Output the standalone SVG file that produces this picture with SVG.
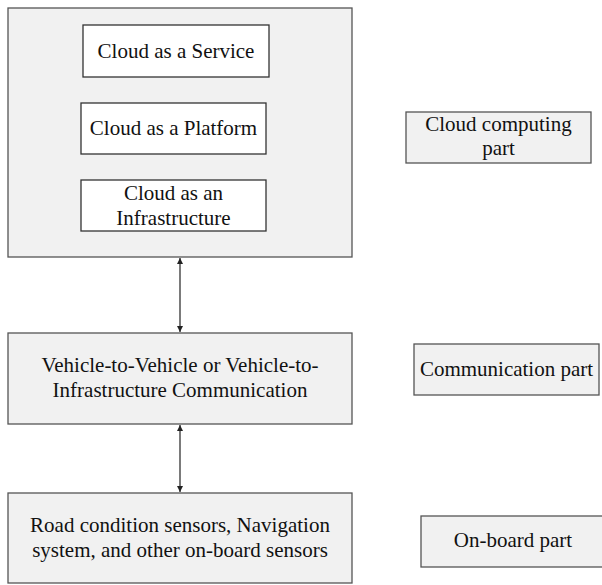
<svg xmlns="http://www.w3.org/2000/svg" width="602" height="585" viewBox="0 0 602 585">
<style>
.box{fill:#f1f1f1;stroke:#555;stroke-width:1.3}
.inner{fill:#fff;stroke:#333;stroke-width:1.3}
.t{font-family:'Liberation Serif','Times New Roman','DejaVu Serif',serif;font-size:21px;fill:#111;text-anchor:middle}
.conn{stroke:#222;stroke-width:1.2;fill:none;marker-start:url(#ah);marker-end:url(#ah)}
</style>
<defs>
<marker id="ah" viewBox="0 0 10 10" refX="10" refY="5" markerWidth="6" markerHeight="6" markerUnits="userSpaceOnUse" orient="auto-start-reverse">
<path d="M0,0 L10,5 L0,10 z" fill="#222"/>
</marker>
</defs>
<g id="cloud">
<rect class="box" x="8" y="8" width="344" height="249"/>
</g>
<g id="service">
<rect class="inner" x="83" y="25" width="186" height="52"/>
<text class="t" font-family="Liberation Serif, serif" x="176" y="58">Cloud as a Service</text>
</g>
<g id="platform">
<rect class="inner" x="81" y="103" width="185" height="51"/>
<text class="t" font-family="Liberation Serif, serif" x="173.5" y="135">Cloud as a Platform</text>
</g>
<g id="infrastructure">
<rect class="inner" x="81" y="180" width="185" height="51"/>
<text class="t" font-family="Liberation Serif, serif" x="173.5" y="200">Cloud as an</text>
<text class="t" font-family="Liberation Serif, serif" x="173.5" y="225">Infrastructure</text>
</g>
<g id="cloud-label">
<rect class="box" x="406" y="112" width="185" height="51"/>
<text class="t" font-family="Liberation Serif, serif" x="498.5" y="131">Cloud computing</text>
<text class="t" font-family="Liberation Serif, serif" x="498.5" y="155">part</text>
</g>
<g id="communication">
<rect class="box" x="8" y="333" width="344" height="91"/>
<text class="t" font-family="Liberation Serif, serif" x="180" y="372">Vehicle-to-Vehicle or Vehicle-to-</text>
<text class="t" font-family="Liberation Serif, serif" x="180" y="397">Infrastructure Communication</text>
</g>
<g id="communication-label">
<rect class="box" x="414" y="344" width="185" height="51"/>
<text class="t" font-family="Liberation Serif, serif" x="506.5" y="376">Communication part</text>
</g>
<g id="onboard">
<rect class="box" x="8" y="493" width="344" height="90"/>
<text class="t" font-family="Liberation Serif, serif" x="180" y="532">Road condition sensors, Navigation</text>
<text class="t" font-family="Liberation Serif, serif" x="180" y="557">system, and other on-board sensors</text>
</g>
<g id="onboard-label">
<rect class="box" x="421" y="516" width="186" height="51"/>
<text class="t" font-family="Liberation Serif, serif" x="513" y="547">On-board part</text>
</g>
<g id="connectors">
<line class="conn" x1="180" y1="258" x2="180" y2="332"/>
<line class="conn" x1="180" y1="425" x2="180" y2="492"/>
</g>
</svg>
